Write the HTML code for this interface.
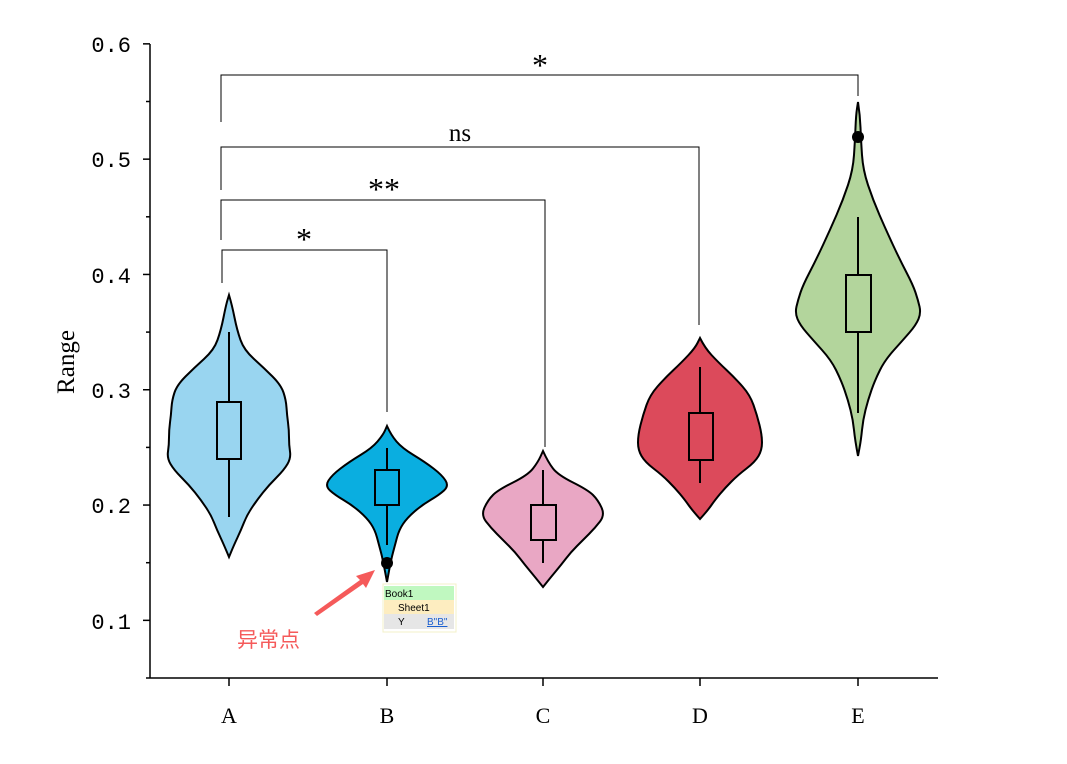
<!DOCTYPE html><html><head><meta charset="utf-8"><style>body{margin:0;background:#fff}svg{display:block}</style></head><body>
<svg id="s" width="1067" height="764" xmlns="http://www.w3.org/2000/svg" font-family="Liberation Mono, monospace">
<rect width="1067" height="764" fill="#fff"/>
<g stroke="#000" stroke-width="1.5" fill="none">
<line x1="150" y1="44" x2="150" y2="678"/><line x1="150" y1="678" x2="938" y2="678"/>
</g>
<g id="ticks" stroke="#000" stroke-width="1.5"></g>
<g font-size="22" text-anchor="end" fill="#000">
<text x="131" y="52">0.6</text><text x="131" y="167">0.5</text><text x="131" y="283">0.4</text><text x="131" y="398">0.3</text><text x="131" y="513">0.2</text><text x="131" y="629">0.1</text>
</g>
<g font-size="22" text-anchor="middle" font-family="Liberation Serif, serif">
<text x="229" y="723">A</text><text x="387" y="723">B</text><text x="543" y="723">C</text><text x="700" y="723">D</text><text x="858" y="723">E</text>
</g>
<text transform="translate(74,362) rotate(-90)" font-size="25" text-anchor="middle" font-family="Liberation Serif, serif">Range</text>
<g id="v"></g>
<g stroke="#000" stroke-width="1" fill="none">
<polyline points="221,122 221,75 858,75 858,96"/>
<polyline points="221,190 221,147 699,147 699,325"/>
<polyline points="221,240 221,200 545,200 545,447"/>
<polyline points="222,283 222,250 387,250 387,412"/>
</g>
<g font-size="32" text-anchor="middle" font-family="Liberation Serif, serif">
<text x="540" y="76">*</text><text x="460" y="141" font-size="25">ns</text><text x="384" y="200">**</text><text x="304" y="250">*</text>
</g>
<polygon points="314,613 360,580 356,576 375,570 366,588 363,584 317,616" fill="#f55a5a"/>
<text x="237" y="647" font-size="21" fill="#f55a5a" font-family="Noto Sans CJK SC, sans-serif">异常点</text>
<rect x="383" y="584" width="73" height="48" fill="#fff" stroke="#f3f0c8"/>
<rect x="384" y="586" width="70" height="14" fill="#c0f8c0"/>
<rect x="384" y="600" width="70" height="14" fill="#fdedc0"/>
<rect x="384" y="614" width="70" height="15" fill="#e6e6e6"/>
<g font-size="10" font-family="Liberation Sans, sans-serif">
<text x="385" y="597">Book1</text><text x="398" y="611">Sheet1</text><text x="398" y="625">Y</text>
<text x="427" y="625" fill="#1a5fd0" text-decoration="underline">B"B"</text>
</g>
</svg>
<script>
var ns="http://www.w3.org/2000/svg";
function el(n,a,p){var e=document.createElementNS(ns,n);for(var k in a)e.setAttribute(k,a[k]);p.appendChild(e);return e;}
var t=document.getElementById('ticks');
for(var i=0;i<=11;i++){var v=0.05+i*0.05;var y=678-(v-0.05)*1153;var big=(i%2==1);el('line',{x1:big?143:146,x2:150,y1:y,y2:y},t);}
[229,387,543,700,858].forEach(function(x){el('line',{x1:x,x2:x,y1:678,y2:686},t);});
var V=[
{c:229,f:'#99d5f0',p:[[295,0],[305,3],[330,8],[350,15],[368,35],[385,52],[400,57],[415,58],[430,60],[445,60],[458,62],[470,55],[485,40],[500,28],[515,18],[530,12],[545,5],[557,0]],b:[217,241,402,459,332,517],o:null},
{c:387,f:'#0aaee0',p:[[426,0],[435,4],[448,15],[462,38],[475,55],[486,62],[495,52],[505,35],[518,20],[530,12],[545,8],[560,4],[582,0]],b:[375,399,470,505,448,545],o:563},
{c:543,f:'#e9a7c4',p:[[451,0],[462,5],[475,15],[490,45],[500,55],[515,62],[528,52],[540,40],[552,28],[565,18],[577,8],[587,0]],b:[531,556,505,540,470,563],o:null},
{c:700,f:'#dc4a5b',p:[[338,0],[348,5],[362,18],[378,35],[395,50],[415,57],[435,62],[450,62],[462,55],[475,38],[488,25],[500,15],[510,8],[519,0]],b:[689,713,413,460,367,483],o:null},
{c:858,f:'#b3d59c',p:[[102,0],[115,2],[140,3],[170,5],[200,15],[230,28],[260,42],[285,55],[300,60],[313,63],[325,58],[340,45],[360,27],[380,17],[400,10],[420,5],[440,3],[456,0]],b:[846,871,275,332,217,413],o:137}];
var g=document.getElementById('v');
V.forEach(function(v){
 var p=v.p,d='M'+v.c+','+p[0][0];
 function side(s){var pts=p.map(function(q){return [v.c+s*q[1],q[0]];});if(s<0)pts.reverse();var str='';for(var i=1;i<pts.length-1;i++){var m=[(pts[i][0]+pts[i+1][0])/2,(pts[i][1]+pts[i+1][1])/2];str+=' Q'+pts[i][0]+','+pts[i][1]+' '+m[0]+','+m[1];}str+=' L'+pts[pts.length-1][0]+','+pts[pts.length-1][1];return str;}
 d+=side(1)+side(-1)+'Z';
 el('path',{d:d,fill:v.f,stroke:'#000','stroke-width':2},g);
 var b=v.b;
 el('line',{x1:v.c,x2:v.c,y1:b[4],y2:b[5],stroke:'#000','stroke-width':2},g);
 el('rect',{x:b[0],y:b[2],width:b[1]-b[0],height:b[3]-b[2],fill:v.f,stroke:'#000','stroke-width':2},g);
 if(v.o)el('circle',{cx:v.c,cy:v.o,r:6,fill:'#000'},g);
});
</script>
</body></html>
